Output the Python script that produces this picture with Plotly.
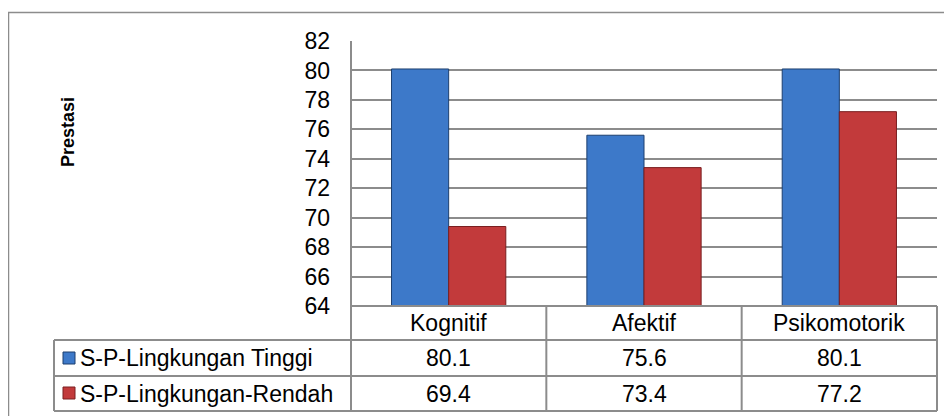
import plotly.graph_objects as go

categories = ["Kognitif", "Afektif", "Psikomotorik"]
series_names = ["S-P-Lingkungan Tinggi", "S-P-Lingkungan-Rendah"]
tinggi = [80.1, 75.6, 80.1]
rendah = [69.4, 73.4, 77.2]
y_ticks = [64, 66, 68, 70, 72, 74, 76, 78, 80, 82]

FONT = "Liberation Sans, Arial, sans-serif"
FONT_SIZE = 23
GRID = "#8c8c8c"
COLORS = ("#3d79c9", "#c23a3b")
EDGES = ("#1d3f6e", "#7a1f20")

# page is 952x416, the html body adds an 8px margin
PAGE_W, PAGE_H, OFFSET = 952, 416, 8
# plot area in page pixels
PL, PR, PT, PB = 351, 937, 41, 306


def px(x):
    return (x - PL) / (PR - PL)


def py(y):
    return (PB - y) / (PB - PT)


fig = go.Figure()
for name, values, color, edge in zip(series_names, [tinggi, rendah], COLORS, EDGES):
    fig.add_trace(
        go.Bar(
            x=categories,
            y=values,
            name=name,
            marker={"color": color, "line": {"color": edge, "width": 1}},
            showlegend=False,
        )
    )

line = {"color": GRID, "width": 2}
shapes = [
    # outer chart border (right and bottom edges fall outside the page)
    {"type": "rect", "xref": "paper", "yref": "paper",
     "x0": px(8.5), "x1": px(970), "y0": py(430), "y1": py(12.5),
     "line": {"color": "#8c8c8c", "width": 1.5}},
    # value axis line running through the table
    {"type": "line", "xref": "paper", "yref": "paper",
     "x0": 0, "x1": 0, "y0": py(411), "y1": 1, "line": line},
    {"type": "line", "xref": "paper", "yref": "paper",
     "x0": 0, "x1": 1, "y0": 0, "y1": 0, "line": line},
]
for y in (340, 376, 411):
    shapes.append({"type": "line", "xref": "paper", "yref": "paper",
                   "x0": px(54), "x1": 1, "y0": py(y), "y1": py(y), "line": line})
shapes.append({"type": "line", "xref": "paper", "yref": "paper",
               "x0": px(54), "x1": px(54), "y0": py(411), "y1": py(340), "line": line})
for i in range(1, len(categories) + 1):
    xv = i / len(categories)
    shapes.append({"type": "line", "xref": "paper", "yref": "paper",
                   "x0": xv, "x1": xv, "y0": py(411), "y1": 0, "line": line})
# legend keys
for color, edge, yc in zip(COLORS, EDGES, (358, 393)):
    shapes.append({"type": "rect", "xref": "paper", "yref": "paper",
                   "x0": px(63), "x1": px(75), "y0": py(yc + 6), "y1": py(yc - 6),
                   "fillcolor": color, "line": {"color": edge, "width": 1}})

annotations = []
row_centers = (323, 358, 393.5)
for cat in categories:
    annotations.append({"x": cat, "xref": "x", "y": py(row_centers[0]), "yref": "paper",
                        "text": cat, "showarrow": False, "yanchor": "middle"})
for values, yc in zip([tinggi, rendah], row_centers[1:]):
    for cat, v in zip(categories, values):
        annotations.append({"x": cat, "xref": "x", "y": py(yc), "yref": "paper",
                            "text": f"{v:.1f}", "showarrow": False, "yanchor": "middle"})
for name, yc in zip(series_names, row_centers[1:]):
    annotations.append({"x": px(78), "xref": "paper", "y": py(yc), "yref": "paper",
                        "text": name, "showarrow": False, "xanchor": "left",
                        "yanchor": "middle"})
annotations.append({"x": px(56), "xref": "paper", "y": py(132), "yref": "paper",
                    "text": "<b>Prestasi</b>", "textangle": -90, "showarrow": False,
                    "font": {"size": 18}})

fig.update_layout(
    width=PAGE_W - OFFSET,
    height=PAGE_H - OFFSET,
    margin={"l": PL - OFFSET, "r": PAGE_W - PR, "t": PT - OFFSET, "b": PAGE_H - PB, "pad": 0},
    paper_bgcolor="white",
    plot_bgcolor="white",
    barmode="group",
    bargap=0.415,
    bargroupgap=0,
    font={"family": FONT, "size": FONT_SIZE, "color": "#000000"},
    shapes=shapes,
    annotations=annotations,
)
fig.update_xaxes(showticklabels=False, showgrid=False, zeroline=False, showline=False)
fig.update_yaxes(
    range=[64, 82],
    tickvals=y_ticks,
    showgrid=True,
    gridcolor=GRID,
    gridwidth=2,
    zeroline=False,
    showline=False,
    ticks="",
    ticklabelstandoff=20,
)

fig.write_html("out.html")
